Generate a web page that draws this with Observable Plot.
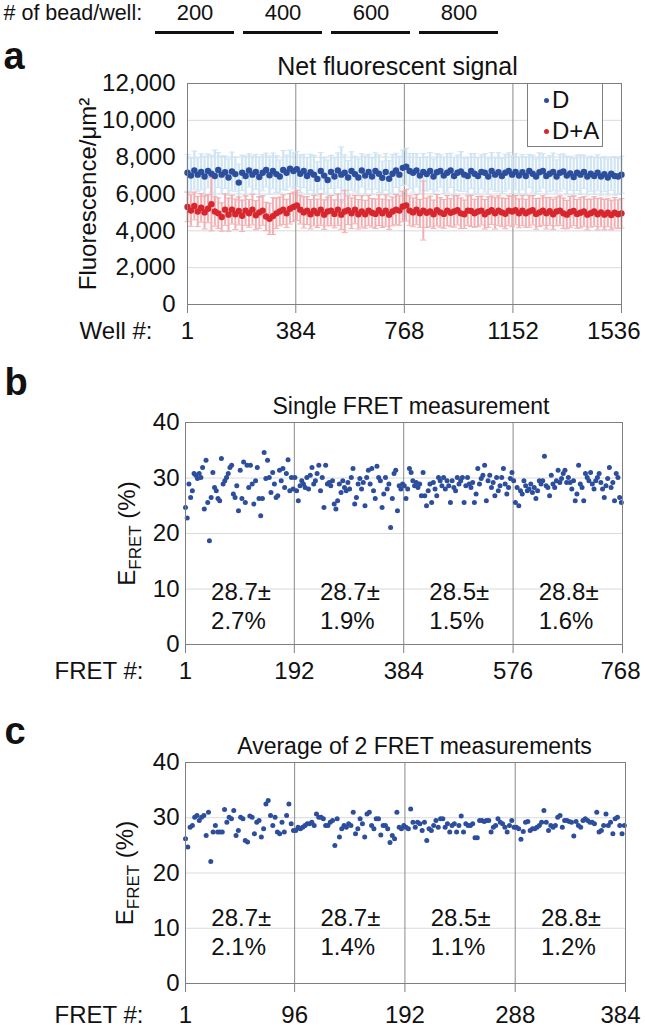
<!DOCTYPE html>
<html><head><meta charset="utf-8">
<script src="https://cdn.jsdelivr.net/npm/d3@7"></script>
<script src="https://cdn.jsdelivr.net/npm/@observablehq/plot@0.6"></script>
<style>
body{margin:0;background:#fff;font-family:"Liberation Sans",Arial,sans-serif;color:#111;}
#root{position:relative;width:645px;height:1028px;overflow:hidden;background:#fff;}
#legend{position:absolute;left:527px;top:83px;width:74px;height:62px;border:1px solid #7f7f7f;background:#fff;}
.li{position:absolute;left:16px;font-size:24px;line-height:24px;display:flex;align-items:center;color:#111;}
.ld{width:5px;height:5px;border-radius:50%;margin-right:3px;}
</style></head><body><div id="root"></div>
<script>
// ---------- data ----------
const headerLabel = "# of bead/well:";
const beadCounts = ["200", "400", "600", "800"];

const titleA = "Net fluorescent signal";
const titleB = "Single FRET measurement";
const titleC = "Average of 2 FRET measurements";
const yLabelA = "Fluorescence/\u03bcm\u00b2";
const xLabelA = "Well #:";
const xLabelFret = "FRET #:";
const seriesNames = ["D", "D+A"];

const wellTicks = [1, 384, 768, 1152, 1536];
const fluorTicks = [0, 2000, 4000, 6000, 8000, 10000, 12000];
const fretTicksB = [1, 192, 384, 576, 768];
const fretTicksC = [1, 96, 192, 288, 384];
const efretTicks = [0, 10, 20, 30, 40];

// panel a: donor only (D) and donor+acceptor (D+A), every ~12th well, mean and error half-width
const fluorD = [
 7150,7000,7280,7050,7200,6950,7250,7100,6980,7300,7050,7180,6900,7220,7080,6620,7150,6980,7280,7050,7200,6920,7150,7300,7020,7250,7080,6950,7300,7150,7380,7250,
 7350,7100,7250,6980,7180,7050,6820,7250,7000,6760,7200,6950,7280,7050,7150,6900,7250,7080,6900,7280,7000,7200,6950,7250,7100,6880,7200,6830,7100,7280,7050,7420,
 7480,7250,7150,7280,7000,7200,7080,7250,6950,7180,7250,7000,7150,7280,6980,7150,7220,7050,6980,7250,7100,6980,7200,7150,6950,7250,7050,7180,6980,7150,7250,7050,
 7200,7000,7180,6980,7250,7100,6950,7180,7250,6980,7100,7200,6950,7150,7220,7000,7120,6920,7150,7050,7200,6950,7100,6980,7150,6950,7080,6900,7100,6980,6950,7050];
const errD = [
 1000,950,1050,900,980,1100,920,1000,1400,950,1020,880,990,1050,930,1000,960,1080,900,1010,950,1100,980,920,1040,970,1000,900,1060,950,1000,980,
 950,1020,900,1000,980,1050,930,1000,960,1080,900,1010,950,1500,980,920,1040,970,1000,900,1060,950,1000,980,1020,900,1000,980,1050,930,1000,960,
 1000,950,1050,900,980,1000,920,1000,950,1020,880,990,1050,930,1000,960,1080,900,1010,950,1100,980,920,1040,970,1000,900,1060,950,1000,980,1020,
 980,1000,950,1020,900,1000,960,1050,930,1000,980,1020,900,1000,950,1050,920,1000,960,1080,900,1010,950,1000,980,1020,950,1000,900,1050,980,1000];
const fluorDA = [
 5300,5100,5350,5050,5250,5000,5200,5450,5050,4950,4750,5150,4880,5150,4900,5080,4820,5100,4950,5150,4850,5000,5100,4780,4650,4800,4950,5050,5150,4950,5200,5300,
 5380,5150,5000,5100,4900,5100,4950,5150,4880,5050,5100,4920,5150,4880,5050,5120,4950,5150,4900,5050,4900,5100,4980,4920,5120,4950,5100,4880,5050,5150,5100,5320,
 5380,5100,5000,5150,4950,5100,4980,5050,4900,5120,5000,4920,5100,4980,5050,5120,4950,4900,5100,5080,4950,5050,5100,4900,5020,5120,4950,5100,5000,4930,5100,5050,
 5120,4950,5100,4950,5050,5120,4920,5000,5100,4950,5060,4900,5050,5100,4950,4880,5020,5080,4920,4980,5050,4880,4960,5050,4900,5000,4880,4980,4860,4980,4900,4950];
const errDA = [
 800,850,750,820,780,900,760,1450,800,830,770,850,900,780,820,760,850,800,750,830,790,860,800,770,850,1000,820,780,800,760,830,800,
 820,780,850,760,800,830,770,850,800,780,820,760,850,800,1150,780,830,770,800,850,760,820,780,800,830,770,850,800,780,820,800,830,
 850,800,780,820,760,1600,800,830,770,850,800,780,820,760,850,800,830,770,800,850,760,820,780,800,830,770,850,800,780,820,800,830,
 800,780,820,760,850,800,830,770,800,850,760,820,780,800,830,770,850,800,780,820,800,830,760,800,850,780,820,760,800,830,780,800];

// panel b: single FRET measurements (every 3rd FRET #), E_FRET %
const efretSingle = [
 24.7,22.8,28.9,26.5,27.7,30.8,30.5,29.9,30.8,30.1,31.9,24.4,33.2,25.6,18.7,26.5,31.0,28.3,27.7,26.3,25.9,33.5,28.9,29.5,30.1,30.8,31.9,32.3,27.1,26.5,28.6,24.1,
 31.4,26.3,32.9,25.6,32.3,28.3,32.3,28.9,25.3,29.5,31.9,26.3,23.2,26.3,34.6,29.9,33.2,30.1,27.4,31.0,28.9,26.5,26.8,31.4,29.5,31.7,28.3,30.8,33.3,27.7,30.1,28.0,
 30.1,27.7,25.9,28.6,29.5,28.9,28.3,30.1,28.0,30.5,31.9,28.9,29.5,30.8,32.3,27.7,30.1,24.7,32.3,28.9,29.2,28.6,29.5,25.3,24.4,25.9,28.9,27.4,29.5,28.3,27.7,29.2,
 28.0,30.1,31.7,25.3,26.5,28.9,29.9,28.0,29.2,25.0,30.1,31.4,28.9,31.7,27.7,26.3,32.1,30.1,29.5,24.7,27.1,30.1,28.0,28.9,21.1,26.3,30.8,31.4,24.1,28.6,28.0,28.9,
 28.6,26.3,28.0,31.7,31.0,29.5,28.6,29.2,28.3,28.9,26.8,31.0,26.8,25.0,27.7,28.9,25.6,29.2,28.0,26.8,30.1,29.5,28.6,30.1,28.0,29.5,28.6,25.6,29.5,28.3,27.7,30.1,
 28.9,29.5,30.1,25.6,28.6,30.1,28.9,28.3,29.2,25.6,27.1,31.7,28.9,29.9,30.5,32.3,25.9,29.5,30.5,28.3,29.2,26.8,30.1,27.7,28.6,30.1,31.7,28.9,27.1,28.3,29.9,31.0,
 29.5,25.6,28.3,25.0,27.7,27.1,29.5,28.6,27.7,28.0,28.9,27.4,28.3,26.3,27.7,29.5,28.9,29.5,33.9,28.6,28.3,26.8,30.5,28.9,28.3,29.5,31.4,29.2,29.9,30.8,31.4,29.2,
 30.1,29.2,28.0,29.5,25.9,27.1,32.3,28.9,28.3,25.9,30.8,30.1,29.5,31.0,28.9,28.0,29.5,30.1,30.8,29.2,28.0,26.5,28.6,29.9,31.9,28.3,29.2,25.9,30.8,30.1,26.5,25.6];

// panel c: average of 2 FRET measurements (every 2nd FRET #)
const efretAvg = [
 26.2,24.7,28.3,28.6,30.1,30.4,29.5,30.1,30.4,26.8,31.0,22.1,27.4,28.6,27.4,27.4,27.4,31.5,29.2,30.1,29.8,31.3,26.8,27.7,
 30.1,29.8,25.9,25.6,30.3,30.1,27.1,29.2,29.5,26.5,28.0,32.5,33.1,30.4,28.6,30.1,27.4,27.1,29.2,27.4,30.4,32.5,28.9,27.7,
 27.7,28.3,28.0,28.3,28.6,28.9,28.9,29.2,28.6,30.7,30.1,30.1,29.8,28.6,28.6,29.2,29.5,25.0,29.8,26.5,28.0,28.6,28.3,28.9,
 28.6,31.0,27.1,28.0,29.8,28.9,26.5,30.7,31.0,28.6,28.0,29.8,29.8,26.9,28.6,28.6,28.0,25.5,26.8,26.2,31.0,28.3,28.0,28.6,
 28.3,28.0,31.6,29.2,28.3,29.2,28.9,27.7,29.2,25.9,28.0,27.7,28.6,29.5,28.3,29.8,29.8,28.3,28.9,27.4,28.6,28.9,27.4,28.6,
 30.3,27.4,28.9,28.6,28.6,28.9,26.4,26.4,29.5,29.5,29.3,29.5,29.5,27.4,28.3,28.6,29.8,29.2,28.9,28.3,27.4,28.6,29.5,28.3,
 28.3,28.0,26.1,27.5,29.2,29.3,27.7,28.0,28.0,28.3,28.6,29.2,31.3,29.2,27.7,28.6,28.3,28.6,30.1,30.4,28.3,29.5,29.5,29.3,
 29.2,26.7,29.3,28.6,28.3,29.5,29.8,29.5,29.2,29.2,28.9,31.0,27.4,27.7,28.6,30.7,28.6,29.2,27.1,29.8,30.1,28.6,27.1,28.6];

const meansB = ["28.7", "28.7", "28.5", "28.8"];
const sdsB = ["2.7", "1.9", "1.5", "1.6"];
const meansC = ["28.7", "28.7", "28.5", "28.8"];
const sdsC = ["2.1", "1.4", "1.1", "1.2"];

// ---------- helpers ----------
const FONT = '"Liberation Sans", Arial, Helvetica, sans-serif';
const INK = "#111";
const BLUE = "#2c4e9d", RED = "#d7262e";
const BLUE_ERR = "#cfe5f3", RED_ERR = "#f3aeb2";
const FRAME = "#7f7f7f", GRID = "#dadada", DIV = "#8a8a8a";
const root = document.getElementById("root");
function place(el, top) {
  el.style.position = "absolute"; el.style.left = "0px"; el.style.top = top + "px";
  root.appendChild(el);
}
const baseStyle = {fontFamily: FONT, fontSize: "24px", color: INK, background: "transparent", overflow: "visible"};
const capSymbol = {draw(ctx, size) { const w = 3; ctx.moveTo(-w, 0); ctx.lineTo(w, 0); }};

function subscriptLabel(svg, placeholder) {
  d3.select(svg).selectAll("text").filter(function () { return this.textContent === placeholder; })
    .each(function () {
      const t = d3.select(this);
      t.text(null);
      t.append("tspan").text("E");
      t.append("tspan").attr("font-size", 17).attr("dy", 6).text("FRET");
      t.append("tspan").attr("dy", -6).text(" (%)");
    });
}
// x ticks below frame plus labels; the last label is kept inside the page
function xTickMarks(ticks, pad, lastDx) {
  return [
    Plot.axisX(ticks, {tickSize: 9, tickFormat: () => "", label: null, stroke: FRAME}),
    Plot.text(ticks.slice(0, -1), {x: d => d, text: d => String(d), frameAnchor: "bottom", lineAnchor: "top", dy: 9 + pad, fontSize: 24, fill: INK}),
    Plot.text(ticks.slice(-1), {x: d => d, text: d => String(d), frameAnchor: "bottom", textAnchor: "end", lineAnchor: "top", dx: lastDx, dy: 9 + pad, fontSize: 24, fill: INK})
  ];
}

// ---------- header ----------
const header = Plot.plot({
  width: 645, height: 40, marginTop: 0, marginBottom: 8, marginLeft: 154, marginRight: 145,
  style: baseStyle,
  x: {type: "band", domain: beadCounts, paddingInner: 0.1, paddingOuter: 0, axis: null},
  y: {domain: [0, 1], axis: null},
  marks: [
    Plot.tickY(beadCounts, {x: d => d, y: 0, stroke: INK, strokeWidth: 3}),
    Plot.text(beadCounts, {x: d => d, text: d => d, frameAnchor: "top", lineAnchor: "top", dy: 4, fontSize: 22, fill: INK}),
    Plot.text([headerLabel], {frameAnchor: "top-left", textAnchor: "start", lineAnchor: "top", dx: -151, dy: 4, fontSize: 21.5, fill: INK})
  ]
});
place(header, 0);

// ---------- panel a ----------
const wellOf = i => 1 + i * 1535 / (fluorD.length - 1);
const rowsD = fluorD.map((v, i) => ({well: wellOf(i), v, e: errD[i]}));
const rowsDA = fluorDA.map((v, i) => ({well: wellOf(i), v, e: errDA[i]}));

const pa = Plot.plot({
  width: 645, height: 310, marginTop: 43, marginBottom: 46, marginLeft: 187, marginRight: 24,
  style: baseStyle,
  x: {domain: [1, 1536]},
  y: {domain: [0, 12000]},
  marks: [
    Plot.ruleY(fluorTicks.filter(d => d > 0), {stroke: GRID}),
    Plot.ruleX(wellTicks.slice(1, -1), {stroke: DIV}),
    Plot.ruleX(rowsD, {x: "well", y1: d => d.v - d.e, y2: d => d.v + d.e, stroke: BLUE_ERR, strokeWidth: 2.2}),
    Plot.dot(rowsD, {x: "well", y: d => d.v + d.e, symbol: capSymbol, stroke: BLUE_ERR, strokeWidth: 1}),
    Plot.dot(rowsD, {x: "well", y: d => d.v - d.e, symbol: capSymbol, stroke: BLUE_ERR, strokeWidth: 1}),
    Plot.ruleX(rowsDA, {x: "well", y1: d => d.v - d.e, y2: d => d.v + d.e, stroke: RED_ERR, strokeWidth: 2}),
    Plot.dot(rowsDA, {x: "well", y: d => d.v + d.e, symbol: capSymbol, stroke: RED_ERR, strokeWidth: 1}),
    Plot.dot(rowsDA, {x: "well", y: d => d.v - d.e, symbol: capSymbol, stroke: RED_ERR, strokeWidth: 1}),
    Plot.dot(rowsD, {x: "well", y: "v", r: 3.2, fill: BLUE}),
    Plot.dot(rowsDA, {x: "well", y: "v", r: 3.2, fill: RED}),
    Plot.frame({stroke: FRAME}),
    ...xTickMarks(wellTicks, 8, 19),
    Plot.axisY(fluorTicks, {tickSize: 0, tickPadding: 12, tickFormat: d3.format(","), fontSize: 24, label: null, fill: INK}),
    Plot.text([xLabelA], {frameAnchor: "bottom-left", textAnchor: "end", lineAnchor: "top", dx: -35, dy: 17, fontSize: 24, fill: INK}),
    Plot.text([yLabelA], {frameAnchor: "left", textAnchor: "middle", rotate: -90, dx: -99, fontSize: 24, fill: INK}),
    Plot.text([titleA], {frameAnchor: "top", textAnchor: "middle", lineAnchor: "bottom", dx: -7, dy: -9, fontSize: 25, fill: INK}),
    Plot.text(["a"], {frameAnchor: "top-left", textAnchor: "start", lineAnchor: "bottom", dx: -184, dy: -15, fontSize: 38, fontWeight: "bold", fill: INK})
  ]
});
place(pa, 40);

const legend = document.createElement("div");
legend.id = "legend";
legend.innerHTML =
  `<div class="li" style="top:4px"><span class="ld" style="background:${BLUE}"></span>${seriesNames[0]}</div>` +
  `<div class="li" style="top:35px"><span class="ld" style="background:${RED}"></span>${seriesNames[1]}</div>`;
root.appendChild(legend);

// ---------- FRET panels ----------
function fretPanel({values, step, ticks, title, means, sds, letter, height, mTop, mBottom, mRight,
                    r, titleDx, yLabelDx, annotTop, xPad, letterDy, lastDx}) {
  const span = ticks[1] - ticks[0] + 1;
  const rows = values.map((v, i) => ({n: 1 + i * step, v}));
  const ann = means.map((m, q) => ({x: ticks[q] + span * 0.234, text: `${m}\u00b1\n${sds[q]}%`}));
  const placeholder = "EFRETLABEL";
  const p = Plot.plot({
    width: 645, height, marginTop: mTop, marginBottom: mBottom, marginLeft: 185, marginRight: mRight,
    style: baseStyle,
    x: {domain: [ticks[0], ticks[ticks.length - 1]]},
    y: {domain: [0, 40]},
    marks: [
      Plot.ruleY(efretTicks.slice(1, -1), {stroke: GRID}),
      Plot.ruleX(ticks.slice(1, -1), {stroke: DIV}),
      Plot.dot(rows, {x: "n", y: "v", r, fill: BLUE}),
      Plot.frame({stroke: FRAME}),
      Plot.text(ann, {x: "x", y: annotTop, text: "text", textAnchor: "start", lineAnchor: "top", lineHeight: 1.2, fontSize: 24, fill: INK}),
      ...xTickMarks(ticks, xPad, lastDx),
      Plot.axisY(efretTicks, {tickSize: 0, tickPadding: 6, fontSize: 24, label: null, fill: INK}),
      Plot.text([xLabelFret], {frameAnchor: "bottom-left", textAnchor: "end", lineAnchor: "top", dx: -42, dy: 9 + xPad, fontSize: 24, fill: INK}),
      Plot.text([placeholder], {frameAnchor: "left", textAnchor: "middle", rotate: -90, dx: yLabelDx, fontSize: 24, fill: INK}),
      Plot.text([title], {frameAnchor: "top", textAnchor: "middle", lineAnchor: "bottom", dx: titleDx, dy: -9, fontSize: 23, fill: INK}),
      Plot.text([letter], {frameAnchor: "top-left", textAnchor: "start", lineAnchor: "bottom", dx: -181, dy: letterDy, fontSize: 38, fontWeight: "bold", fill: INK})
    ]
  });
  subscriptLabel(p, placeholder);
  return p;
}

const pb = fretPanel({values: efretSingle, step: 3, ticks: fretTicksB, title: titleB, means: meansB, sds: sdsB,
  letter: "b", height: 335, mTop: 72, mBottom: 41, mRight: 23, r: 2.5, titleDx: 7, yLabelDx: -58,
  annotTop: 11.7, xPad: 8, letterDy: -28, lastDx: 18});
place(pb, 350);

const pc = fretPanel({values: efretAvg, step: 2, ticks: fretTicksC, title: titleC, means: meansC, sds: sdsC,
  letter: "c", height: 338, mTop: 72, mBottom: 45, mRight: 20, r: 2.5, titleDx: 9, yLabelDx: -60,
  annotTop: 14.1, xPad: 13, letterDy: -19, lastDx: 15});
place(pc, 690);
</script></body></html>
